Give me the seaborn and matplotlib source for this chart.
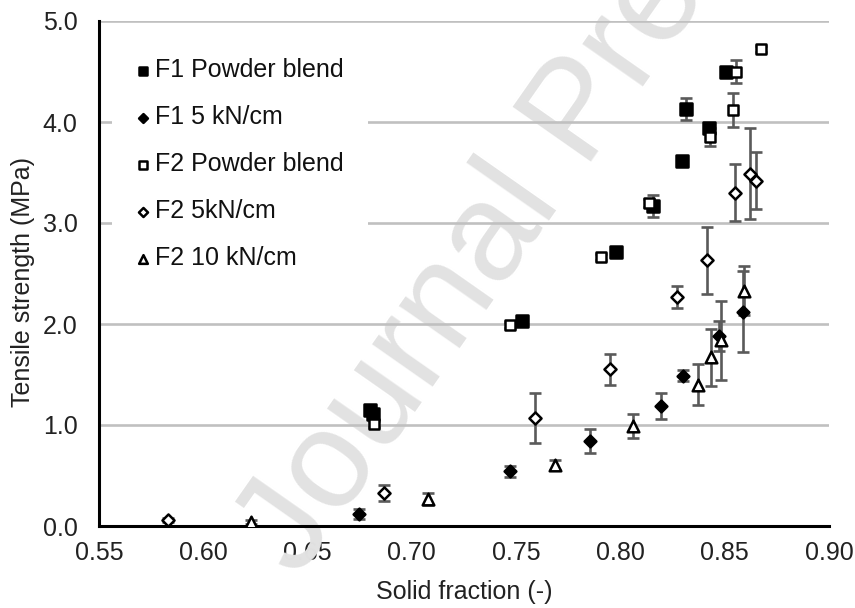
import matplotlib
matplotlib.use("Agg")
import matplotlib.pyplot as plt
from matplotlib.ticker import FormatStrFormatter
import seaborn as sns

# Solid fraction (-), mean tensile strength (MPa) and standard deviation (MPa)
f1_blend_sf = [0.6798, 0.6813, 0.753, 0.7978, 0.8157, 0.8297, 0.8314, 0.8424, 0.8506]
f1_blend_ts = [1.15, 1.11, 2.03, 2.71, 3.17, 3.61, 4.13, 3.94, 4.50]
f1_blend_sd = [0.03, 0.03, 0.03, 0.03, 0.11, 0.03, 0.11, 0.03, 0.03]

f1_5kn_sf = [0.6748, 0.747, 0.7855, 0.8196, 0.8302, 0.8472, 0.8587]
f1_5kn_ts = [0.12, 0.54, 0.84, 1.19, 1.49, 1.88, 2.12]
f1_5kn_sd = [0.05, 0.05, 0.12, 0.13, 0.05, 0.15, 0.40]

f2_blend_sf = [0.6820, 0.747, 0.7907, 0.8139, 0.843, 0.854, 0.8552, 0.8672]
f2_blend_ts = [1.01, 1.99, 2.66, 3.20, 3.85, 4.12, 4.50, 4.72]
f2_blend_sd = [0.03, 0.03, 0.03, 0.04, 0.09, 0.17, 0.11, 0.03]

f2_5kn_sf = [0.583, 0.6866, 0.759, 0.7948, 0.8272, 0.8414, 0.8547, 0.8620, 0.8652]
f2_5kn_ts = [0.06, 0.33, 1.07, 1.55, 2.27, 2.63, 3.30, 3.49, 3.42]
f2_5kn_sd = [0.02, 0.08, 0.25, 0.155, 0.11, 0.33, 0.28, 0.45, 0.28]

f2_10kn_sf = [0.6228, 0.7079, 0.7687, 0.8058, 0.8374, 0.8435, 0.8482, 0.8593]
f2_10kn_ts = [0.04, 0.27, 0.60, 0.99, 1.40, 1.67, 1.84, 2.33]
f2_10kn_sd = [0.02, 0.06, 0.05, 0.12, 0.20, 0.28, 0.39, 0.24]

series_labels = ["F1 Powder blend", "F1 5 kN/cm", "F2 Powder blend",
                 "F2 5kN/cm", "F2 10 kN/cm"]
x_ticks = [0.55, 0.60, 0.65, 0.70, 0.75, 0.80, 0.85, 0.90]
y_ticks = [0.0, 1.0, 2.0, 3.0, 4.0, 5.0]
x_title = "Solid fraction (-)"
y_title = "Tensile strength (MPa)"
stamp = "Journal Pre-proof"

sns.set_theme(style="white")
plt.rcParams["font.family"] = ["Liberation Sans", "DejaVu Sans"]

W, H = 855, 608
fig = plt.figure(figsize=(W / 100, H / 100), dpi=100)
ax = fig.add_axes([99 / W, 1 - 526 / H, 730 / W, 505 / H])
ax.set_axisbelow(True)

series = [
    (f1_blend_sf, f1_blend_ts, f1_blend_sd, "s", "black", 64),
    (f1_5kn_sf, f1_5kn_ts, f1_5kn_sd, "D", "black", 36),
    (f2_blend_sf, f2_blend_ts, f2_blend_sd, "s", "white", 56),
    (f2_5kn_sf, f2_5kn_ts, f2_5kn_sd, "D", "white", 38),
    (f2_10kn_sf, f2_10kn_ts, f2_10kn_sd, "^", "white", 70),
]

for (sf, ts, sd, mk, fc, size), lab in zip(series, series_labels):
    ax.errorbar(sf, ts, yerr=sd, fmt="none", ecolor="#5a5a5a",
                elinewidth=1.9, capsize=4, capthick=1.9, zorder=2)
    sns.scatterplot(x=sf, y=ts, marker=mk, s=size, color=fc,
                    edgecolor="black", linewidth=1.8, label=lab,
                    ax=ax, zorder=4)

# horizontal reference lines
for v in y_ticks[1:]:
    ax.axhline(v, color="#c0c0c0", lw=1.9, zorder=1.2)
ax.grid(False)

# background stamp text
ax.text(580 / W, 1 - 115 / H, stamp, transform=fig.transFigure,
        rotation=55, rotation_mode="anchor", ha="center", va="center",
        fontsize=101, color="#e2e2e2", zorder=1.0, clip_on=False)

ax.set_xlim(0.55, 0.90)
ax.set_ylim(0.0, 5.0)
ax.set_xticks(x_ticks)
ax.set_yticks(y_ticks)
ax.xaxis.set_major_formatter(FormatStrFormatter("%.2f"))
ax.yaxis.set_major_formatter(FormatStrFormatter("%.1f"))

for side in ("top", "right"):
    ax.spines[side].set_visible(False)
for side in ("left", "bottom"):
    ax.spines[side].set_color("black")
    ax.spines[side].set_linewidth(2.2)

ax.tick_params(axis="both", direction="out", length=5.5, width=2.2,
               color="black", labelsize=18, labelcolor="#222222")
ax.tick_params(axis="x", pad=5.5)
ax.tick_params(axis="y", pad=10)

ax.set_xlabel(x_title, fontsize=18, color="#222222")
ax.set_ylabel(y_title, fontsize=18, color="#222222")
ax.xaxis.set_label_coords(0.5, -0.1077)
ax.yaxis.set_label_coords(-0.0873, 0.483)

leg = ax.legend(loc="upper left", bbox_to_anchor=(13 / 730, 0.975),
                borderaxespad=0, frameon=True, facecolor="white",
                edgecolor="none", framealpha=1, fancybox=False, fontsize=18,
                handlelength=0.5, handletextpad=0.23, borderpad=0.99,
                labelspacing=0.92, markerscale=0.75)
for t in leg.get_texts():
    t.set_color("#111111")

fig.savefig("out.png", dpi=100)
